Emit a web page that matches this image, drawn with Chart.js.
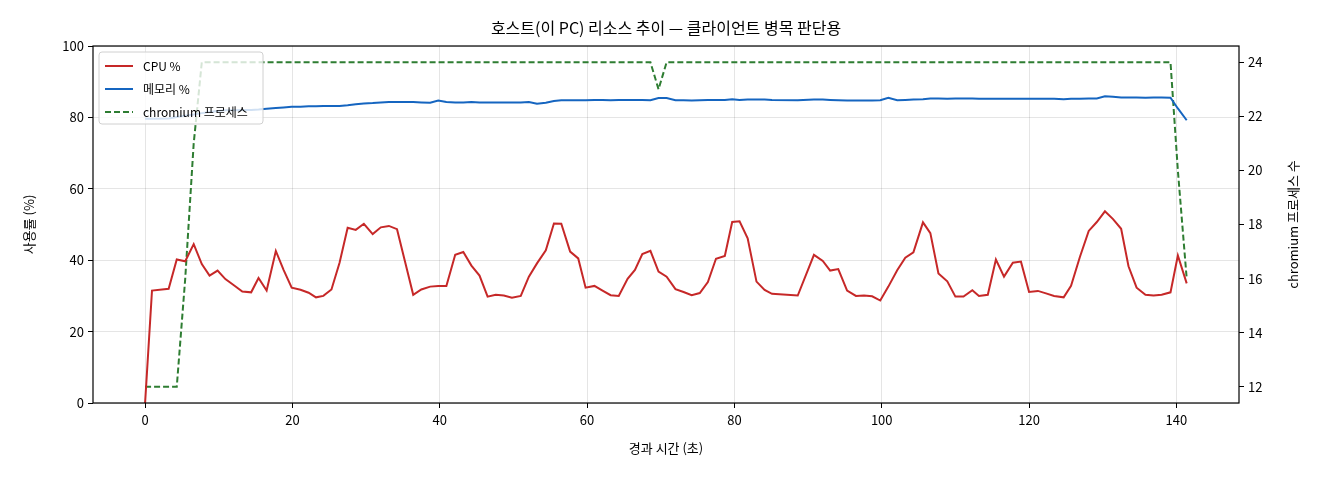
<!DOCTYPE html>
<html><head><meta charset="utf-8">
<script src="https://cdn.jsdelivr.net/npm/chart.js@4.4.1/dist/chart.umd.min.js"></script>
<style>html,body{margin:0;padding:0;background:#fff}#w{width:1320px;height:480px}</style>
</head><body><div id="w"><canvas id="c" width="1320" height="480"></canvas></div>
<script>
const TITLE = "호스트(이 PC) 리소스 추이 — 클라이언트 병목 판단용";
const LABELS = ["CPU %", "메모리 %", "chromium 프로세스"];
const Y1_TITLE = "chromium 프로세스 수";
const xTicks = [0,20,40,60,80,100,120,140];
const t = [0,0.94,3.2,4.3,5.45,6.6,7.7,8.75,9.84,10.9,
12.1,13.2,14.4,15.4,16.5,17.75,18.8,19.9,21.1,22.2,
23.2,24.2,25.3,26.4,27.5,28.6,29.7,30.9,32.0,33.1,
34.2,35.3,36.4,37.5,38.7,39.8,40.9,42.1,43.2,44.3,
45.4,46.5,47.6,48.7,49.8,51.0,52.1,53.2,54.4,55.5,
56.5,57.7,58.8,59.8,61.0,62.1,63.2,64.3,65.5,66.5,
67.5,68.6,69.7,70.8,72.0,73.1,74.2,75.3,76.4,77.5,
78.7,79.7,80.7,81.8,83.0,84.1,85.1,88.6,90.8,92.0,
93.0,94.1,95.3,96.5,97.6,98.7,99.8,100.9,102.1,103.2,
104.3,105.6,106.6,107.7,108.9,110.0,111.1,112.3,113.2,114.4,
115.5,116.6,117.8,118.9,120.0,121.2,122.3,123.4,124.7,125.7,
126.9,128.1,129.2,130.3,131.4,132.5,133.5,134.6,135.8,136.9,
138.0,139.2,140.2,141.4];
const cpu = [0,31.5,32.0,40.2,39.7,44.5,38.9,35.7,37.1,34.7,
32.9,31.2,31.0,35.0,31.5,42.6,37.3,32.3,31.7,30.9,
29.6,30.0,31.8,39.3,49.1,48.5,50.2,47.3,49.2,49.6,
48.7,39.5,30.3,31.8,32.6,32.8,32.8,41.5,42.3,38.5,
35.7,29.8,30.3,30.1,29.5,30.0,35.4,39.1,42.8,50.3,
50.2,42.4,40.5,32.3,32.8,31.5,30.2,30.0,34.8,37.3,
41.7,42.6,36.8,35.4,31.9,31.1,30.2,30.8,33.9,40.4,
41.2,50.7,50.9,46.1,34.0,31.7,30.6,30.1,41.5,39.8,
37.1,37.5,31.5,30.0,30.1,29.9,28.7,32.6,37.2,40.7,
42.2,50.6,47.6,36.3,34.1,29.8,29.8,31.6,30.0,30.3,
40.2,35.4,39.3,39.6,31.1,31.4,30.7,30.0,29.6,32.8,
40.9,48.2,50.7,53.7,51.5,48.8,38.3,32.3,30.3,30.1,
30.3,31.0,41.3,33.5];
const mem = [79.6,79.6,79.7,80.1,80.5,80.8,81.2,81.5,81.8,82.0,
82.0,82.1,82.1,82.2,82.4,82.6,82.8,83.0,83.0,83.1,
83.1,83.2,83.2,83.2,83.4,83.7,83.9,84.0,84.2,84.3,
84.3,84.3,84.3,84.2,84.1,84.7,84.3,84.2,84.2,84.3,
84.2,84.2,84.2,84.2,84.2,84.2,84.3,83.8,84.1,84.6,
84.8,84.8,84.8,84.8,84.9,84.9,84.8,84.9,84.9,84.9,
84.9,84.8,85.4,85.4,84.8,84.8,84.7,84.8,84.9,84.9,
84.9,85.1,84.9,85.0,85.0,85.0,84.9,84.8,85.0,85.0,
84.9,84.8,84.7,84.7,84.7,84.7,84.8,85.5,84.8,84.9,
85.0,85.1,85.3,85.3,85.2,85.3,85.3,85.3,85.2,85.2,
85.2,85.2,85.2,85.2,85.2,85.2,85.2,85.2,85.1,85.2,
85.2,85.3,85.3,85.9,85.8,85.6,85.6,85.6,85.5,85.6,
85.6,85.5,82.5,79.2];
const proc = [12,12,12,12,16,21,24,24,24,24,
24,24,24,24,24,24,24,24,24,24,
24,24,24,24,24,24,24,24,24,24,
24,24,24,24,24,24,24,24,24,24,
24,24,24,24,24,24,24,24,24,24,
24,24,24,24,24,24,24,24,24,24,
24,24,23,24,24,24,24,24,24,24,
24,24,24,24,24,24,24,24,24,24,
24,24,24,24,24,24,24,24,24,24,
24,24,24,24,24,24,24,24,24,24,
24,24,24,24,24,24,24,24,24,24,
24,24,24,24,24,24,24,24,24,24,
24,24,20,16];

const FONT = "'Noto Sans CJK KR', 'DejaVu Sans', sans-serif";
Chart.defaults.font.family = FONT;
Chart.defaults.color = '#000';
const pts = (ys) => t.map((x,i)=>({x, y: ys[i]}));
const COLORS = ['#c62828','#1565c0','#2e7d32'];

const deco = {
  id:'deco',
  afterDraw(ch){
    const c = ch.ctx, a = ch.chartArea;
    c.save();
    c.strokeStyle='#000'; c.lineWidth=1.2;
    c.strokeRect(a.left, a.top, a.right-a.left, a.bottom-a.top);
    c.fillStyle='#000'; c.font = "16px " + FONT; c.textAlign='center'; c.textBaseline='middle';
    c.fillText(TITLE, (a.left+a.right)/2, 28);
    // right axis title, reading bottom-to-top
    c.save();
    c.font = "13px " + FONT;
    c.translate(1293, (a.top+a.bottom)/2);
    c.rotate(-Math.PI/2);
    c.fillText(Y1_TITLE, 0, 0);
    c.restore();
    // legend
    const lx = a.left+6, ly = a.top+6, w = 164, h = 72;
    c.fillStyle='rgba(255,255,255,0.8)'; c.strokeStyle='#d0d0d0'; c.lineWidth=1;
    c.beginPath(); c.roundRect(lx, ly, w, h, 3); c.fill(); c.stroke();
    c.font = "12px " + FONT; c.textAlign='left'; c.fillStyle='#000';
    ch.data.datasets.forEach((d,i)=>{
      const yy = ly + 14 + i*23;
      c.strokeStyle = d.borderColor; c.lineWidth = 2; c.setLineDash(d.borderDash||[]);
      c.beginPath(); c.moveTo(lx+6, yy); c.lineTo(lx+34, yy); c.stroke();
      c.setLineDash([]);
      c.fillText(d.label, lx+44, yy);
    });
    c.restore();
  }
};

new Chart(document.getElementById('c'), {
  type:'line',
  data:{ datasets:[
    {label:LABELS[0], data:pts(cpu), borderColor:COLORS[0], borderWidth:2, pointRadius:0, yAxisID:'y', tension:0},
    {label:LABELS[1], data:pts(mem), borderColor:COLORS[1], borderWidth:2, pointRadius:0, yAxisID:'y', tension:0},
    {label:LABELS[2], data:pts(proc), borderColor:COLORS[2], borderWidth:2, borderDash:[6,3], pointRadius:0, yAxisID:'y1', tension:0}
  ]},
  options:{
    responsive:false, animation:false, events:[],
    layout:{padding:{top:46,left:17,right:0,bottom:20}},
    plugins:{legend:{display:false}, title:{display:false}, tooltip:{enabled:false}},
    scales:{
      x:{type:'linear', min:-7.07, max:148.5,
        afterBuildTicks:(s)=>{s.ticks = xTicks.map(v=>({value:v}));},
        afterFit:(s)=>{s.height=57;},
        border:{display:false},
        grid:{color:'rgba(0,0,0,0.1)', tickColor:'#000', tickLength:5},
        ticks:{font:{size:13}, padding:4, maxRotation:0},
        title:{display:true, text:'경과 시간 (초)', font:{size:13}, padding:{top:4}}
      },
      y:{position:'left', min:0, max:100,
        afterFit:(s)=>{s.width=76;},
        border:{display:false},
        grid:{color:'rgba(0,0,0,0.1)', tickColor:'#000', tickLength:5},
        ticks:{stepSize:20, font:{size:13}, padding:4},
        title:{display:true, text:'사용률 (%)', font:{size:13}, padding:{bottom:8}}
      },
      y1:{position:'right', min:11.4, max:24.6,
        afterBuildTicks:(s)=>{s.ticks=[12,14,16,18,20,22,24].map(v=>({value:v}));},
        afterFit:(s)=>{s.width=81;},
        border:{display:false},
        grid:{drawOnChartArea:false, tickColor:'#000', tickLength:5},
        ticks:{font:{size:13}, padding:4},
        title:{display:false}
      }
    }
  },
  plugins:[deco]
});
</script></body></html>
